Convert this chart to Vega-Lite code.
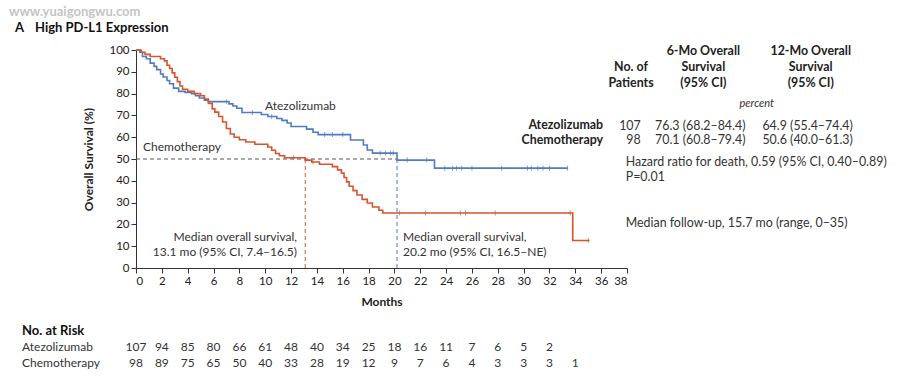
{
  "$schema": "https://vega.github.io/schema/vega-lite/v6.json",
  "width": 491,
  "height": 218,
  "autosize": {"type": "none"},
  "padding": {"left": 136, "top": 50, "right": 273, "bottom": 108},
  "background": "white",
  "config": {
    "view": {"stroke": null},
    "font": "Lato",
    "text": {"font": "Lato", "fontSize": 12, "color": "#2a2a2a", "baseline": "middle"}
  },
  "encoding": {
    "x": {
      "field": "month", "type": "quantitative",
      "scale": {"domain": [0, 38], "nice": false, "zero": false},
      "axis": {
        "title": "Months", "values": [0,2,4,6,8,10,12,14,16,18,20,22,24,26,28,30,32,34,36,38],
        "grid": false, "domainColor": "#333", "tickColor": "#333", "tickSize": 5,
        "labelFontSize": 11.5, "labelColor": "#222", "labelPadding": 2, "labelFont": "Lato",
        "titleFont": "Lato", "titleFontSize": 12, "titleFontWeight": "bold", "titleColor": "#222", "titlePadding": 10
      }
    },
    "y": {
      "field": "surv", "type": "quantitative",
      "scale": {"domain": [0, 100], "nice": false, "zero": false},
      "axis": {
        "title": "Overall Survival (%)", "values": [0,10,20,30,40,50,60,70,80,90,100],
        "grid": false, "domainColor": "#333", "tickColor": "#333", "tickSize": 5,
        "labelFontSize": 11.5, "labelColor": "#222", "labelPadding": 2, "labelFont": "Lato",
        "titleFont": "Lato", "titleFontSize": 12, "titleFontWeight": "bold", "titleColor": "#222", "titlePadding": 13
      }
    }
  },
  "layer": [
    {
      "data": {"values": [{"month": 0, "month2": 20.2, "surv": 50}]},
      "mark": {"type": "rule", "color": "#555", "strokeDash": [4, 3], "strokeWidth": 1},
      "encoding": {"x2": {"field": "month2"}}
    },
    {
      "data": {"values": [{"month": 13.1, "surv": 0, "surv2": 50}]},
      "mark": {"type": "rule", "color": "#d4552e", "strokeDash": [4, 3], "strokeWidth": 1},
      "encoding": {"y2": {"field": "surv2"}}
    },
    {
      "data": {"values": [{"month": 20.2, "surv": 0, "surv2": 50}]},
      "mark": {"type": "rule", "color": "#4f7cc0", "strokeDash": [4, 3], "strokeWidth": 1},
      "encoding": {"y2": {"field": "surv2"}}
    },
    {
      "data": {"values": [
        {"arm": "Atezolizumab", "month": 0, "surv": 100},
        {"arm": "Atezolizumab", "month": 0.3, "surv": 99},
        {"arm": "Atezolizumab", "month": 0.5, "surv": 97},
        {"arm": "Atezolizumab", "month": 0.8, "surv": 96},
        {"arm": "Atezolizumab", "month": 1.1, "surv": 94},
        {"arm": "Atezolizumab", "month": 1.4, "surv": 92.5},
        {"arm": "Atezolizumab", "month": 1.6, "surv": 91},
        {"arm": "Atezolizumab", "month": 1.9, "surv": 89},
        {"arm": "Atezolizumab", "month": 2.1, "surv": 87.6},
        {"arm": "Atezolizumab", "month": 2.4, "surv": 86},
        {"arm": "Atezolizumab", "month": 2.6, "surv": 84.5},
        {"arm": "Atezolizumab", "month": 2.9, "surv": 82.5},
        {"arm": "Atezolizumab", "month": 3.3, "surv": 81},
        {"arm": "Atezolizumab", "month": 3.8, "surv": 80.5},
        {"arm": "Atezolizumab", "month": 4.3, "surv": 80},
        {"arm": "Atezolizumab", "month": 4.6, "surv": 79},
        {"arm": "Atezolizumab", "month": 4.9, "surv": 78},
        {"arm": "Atezolizumab", "month": 5.3, "surv": 77},
        {"arm": "Atezolizumab", "month": 5.6, "surv": 76.3},
        {"arm": "Atezolizumab", "month": 7.2, "surv": 75.3},
        {"arm": "Atezolizumab", "month": 7.5, "surv": 74.3},
        {"arm": "Atezolizumab", "month": 7.8, "surv": 73.3},
        {"arm": "Atezolizumab", "month": 8.2, "surv": 71.3},
        {"arm": "Atezolizumab", "month": 9.7, "surv": 70.4},
        {"arm": "Atezolizumab", "month": 10.2, "surv": 69.5},
        {"arm": "Atezolizumab", "month": 10.9, "surv": 68.6},
        {"arm": "Atezolizumab", "month": 11.3, "surv": 67.7},
        {"arm": "Atezolizumab", "month": 11.7, "surv": 66.5},
        {"arm": "Atezolizumab", "month": 12.0, "surv": 64.9},
        {"arm": "Atezolizumab", "month": 13.2, "surv": 63.7},
        {"arm": "Atezolizumab", "month": 13.7, "surv": 62.3},
        {"arm": "Atezolizumab", "month": 14.1, "surv": 61.2},
        {"arm": "Atezolizumab", "month": 16.6, "surv": 58.7},
        {"arm": "Atezolizumab", "month": 17.6, "surv": 56.4},
        {"arm": "Atezolizumab", "month": 17.9, "surv": 54.1},
        {"arm": "Atezolizumab", "month": 18.3, "surv": 52.7},
        {"arm": "Atezolizumab", "month": 20.2, "surv": 49.5},
        {"arm": "Atezolizumab", "month": 23.1, "surv": 45.8},
        {"arm": "Atezolizumab", "month": 33.4, "surv": 45.8},
        {"arm": "Chemotherapy", "month": 0, "surv": 100},
        {"arm": "Chemotherapy", "month": 0.4, "surv": 99},
        {"arm": "Chemotherapy", "month": 0.7, "surv": 98},
        {"arm": "Chemotherapy", "month": 1.1, "surv": 97},
        {"arm": "Chemotherapy", "month": 1.9, "surv": 96},
        {"arm": "Chemotherapy", "month": 2.2, "surv": 95},
        {"arm": "Chemotherapy", "month": 2.4, "surv": 93},
        {"arm": "Chemotherapy", "month": 2.6, "surv": 91.5},
        {"arm": "Chemotherapy", "month": 2.8, "surv": 89.5},
        {"arm": "Chemotherapy", "month": 3.0, "surv": 87.5},
        {"arm": "Chemotherapy", "month": 3.2, "surv": 85.5},
        {"arm": "Chemotherapy", "month": 3.4, "surv": 83.5},
        {"arm": "Chemotherapy", "month": 3.6, "surv": 82},
        {"arm": "Chemotherapy", "month": 4.0, "surv": 81},
        {"arm": "Chemotherapy", "month": 4.5, "surv": 80},
        {"arm": "Chemotherapy", "month": 5.0, "surv": 79},
        {"arm": "Chemotherapy", "month": 5.3, "surv": 77.5},
        {"arm": "Chemotherapy", "month": 5.6, "surv": 75.5},
        {"arm": "Chemotherapy", "month": 5.9, "surv": 73},
        {"arm": "Chemotherapy", "month": 6.1, "surv": 71.5},
        {"arm": "Chemotherapy", "month": 6.4, "surv": 69.5},
        {"arm": "Chemotherapy", "month": 6.7, "surv": 67},
        {"arm": "Chemotherapy", "month": 7.0, "surv": 64},
        {"arm": "Chemotherapy", "month": 7.3, "surv": 61.5},
        {"arm": "Chemotherapy", "month": 7.6, "surv": 60},
        {"arm": "Chemotherapy", "month": 8.0, "surv": 58.8},
        {"arm": "Chemotherapy", "month": 8.5, "surv": 57.8},
        {"arm": "Chemotherapy", "month": 9.2, "surv": 56.8},
        {"arm": "Chemotherapy", "month": 10.2, "surv": 55.5},
        {"arm": "Chemotherapy", "month": 10.5, "surv": 54},
        {"arm": "Chemotherapy", "month": 10.8, "surv": 52.5},
        {"arm": "Chemotherapy", "month": 11.1, "surv": 51.5},
        {"arm": "Chemotherapy", "month": 11.5, "surv": 50.6},
        {"arm": "Chemotherapy", "month": 13.1, "surv": 49.5},
        {"arm": "Chemotherapy", "month": 13.6, "surv": 48.6},
        {"arm": "Chemotherapy", "month": 14.2, "surv": 47.6},
        {"arm": "Chemotherapy", "month": 15.2, "surv": 46.5},
        {"arm": "Chemotherapy", "month": 15.6, "surv": 45},
        {"arm": "Chemotherapy", "month": 15.9, "surv": 43.5},
        {"arm": "Chemotherapy", "month": 16.1, "surv": 41.5},
        {"arm": "Chemotherapy", "month": 16.3, "surv": 39.5},
        {"arm": "Chemotherapy", "month": 16.5, "surv": 37.5},
        {"arm": "Chemotherapy", "month": 16.8, "surv": 35.5},
        {"arm": "Chemotherapy", "month": 17.1, "surv": 33.5},
        {"arm": "Chemotherapy", "month": 17.5, "surv": 31.5},
        {"arm": "Chemotherapy", "month": 17.9, "surv": 29.8},
        {"arm": "Chemotherapy", "month": 18.3, "surv": 28},
        {"arm": "Chemotherapy", "month": 18.8, "surv": 26.5},
        {"arm": "Chemotherapy", "month": 19.1, "surv": 25.2},
        {"arm": "Chemotherapy", "month": 33.8, "surv": 12.6},
        {"arm": "Chemotherapy", "month": 35.1, "surv": 12.6}
      ]},
      "mark": {"type": "line", "interpolate": "step-after", "strokeWidth": 1.6},
      "encoding": {
        "color": {"field": "arm", "type": "nominal", "scale": {"domain": ["Atezolizumab", "Chemotherapy"], "range": ["#4f7cc0", "#d4552e"]}, "legend": null}
      }
    },
    {
      "data": {"values": [
        {"arm": "Atezolizumab", "month": 7.0, "surv": 76.3},
        {"arm": "Atezolizumab", "month": 9.0, "surv": 71.3},
        {"arm": "Atezolizumab", "month": 10.5, "surv": 69.5},
        {"arm": "Atezolizumab", "month": 14.6, "surv": 61.2},
        {"arm": "Atezolizumab", "month": 15.2, "surv": 61.2},
        {"arm": "Atezolizumab", "month": 16.0, "surv": 61.2},
        {"arm": "Atezolizumab", "month": 18.9, "surv": 52.7},
        {"arm": "Atezolizumab", "month": 19.3, "surv": 52.7},
        {"arm": "Atezolizumab", "month": 19.7, "surv": 52.7},
        {"arm": "Atezolizumab", "month": 19.9, "surv": 52.7},
        {"arm": "Atezolizumab", "month": 21.0, "surv": 49.5},
        {"arm": "Atezolizumab", "month": 22.5, "surv": 49.5},
        {"arm": "Atezolizumab", "month": 23.9, "surv": 45.8},
        {"arm": "Atezolizumab", "month": 24.5, "surv": 45.8},
        {"arm": "Atezolizumab", "month": 24.8, "surv": 45.8},
        {"arm": "Atezolizumab", "month": 25.2, "surv": 45.8},
        {"arm": "Atezolizumab", "month": 26.0, "surv": 45.8},
        {"arm": "Atezolizumab", "month": 28.3, "surv": 45.8},
        {"arm": "Atezolizumab", "month": 30.3, "surv": 45.8},
        {"arm": "Atezolizumab", "month": 30.6, "surv": 45.8},
        {"arm": "Atezolizumab", "month": 31.1, "surv": 45.8},
        {"arm": "Atezolizumab", "month": 31.5, "surv": 45.8},
        {"arm": "Atezolizumab", "month": 32.0, "surv": 45.8},
        {"arm": "Atezolizumab", "month": 33.4, "surv": 45.8},
        {"arm": "Chemotherapy", "month": 12.2, "surv": 50.6},
        {"arm": "Chemotherapy", "month": 13.7, "surv": 48.6},
        {"arm": "Chemotherapy", "month": 20.4, "surv": 25.2},
        {"arm": "Chemotherapy", "month": 22.4, "surv": 25.2},
        {"arm": "Chemotherapy", "month": 25.1, "surv": 25.2},
        {"arm": "Chemotherapy", "month": 25.5, "surv": 25.2},
        {"arm": "Chemotherapy", "month": 27.8, "surv": 25.2},
        {"arm": "Chemotherapy", "month": 33.6, "surv": 25.2},
        {"arm": "Chemotherapy", "month": 35.0, "surv": 12.6}
      ]},
      "mark": {"type": "tick", "orient": "vertical", "size": 5, "thickness": 1},
      "encoding": {
        "color": {"field": "arm", "type": "nominal", "scale": {"domain": ["Atezolizumab", "Chemotherapy"], "range": ["#4f7cc0", "#d4552e"]}, "legend": null}
      }
    },
    {
      "data": {"values": [
        {"label": "www.yuaigongwu.com", "month": -9.83, "surv": 117.4}
      ]},
      "mark": {"type": "text", "align": "left", "fontWeight": "bold", "fontSize": 13, "color": "#c4c4c4", "clip": false},
      "encoding": {"text": {"field": "label"}}
    },
    {
      "data": {"values": [
        {"label": "A", "month": -9.37, "surv": 110.1},
        {"label": "High PD-L1 Expression", "month": -7.82, "surv": 110.1},
        {"label": "No. at Risk", "month": -8.82, "surv": -28.9}
      ]},
      "mark": {"type": "text", "align": "left", "fontWeight": "bold", "fontSize": 13, "color": "#111", "clip": false},
      "encoding": {"text": {"field": "label"}}
    },
    {
      "data": {"values": [
        {"label": "Atezolizumab", "month": 9.98, "surv": 74.3},
        {"label": "Chemotherapy", "month": 0.54, "surv": 55.5},
        {"label": "Atezolizumab", "month": -8.82, "surv": -36.2},
        {"label": "Chemotherapy", "month": -8.82, "surv": -43.6}
      ]},
      "mark": {"type": "text", "align": "left", "fontSize": 12, "color": "#333", "clip": false},
      "encoding": {"text": {"field": "label"}}
    },
    {
      "data": {"values": [
        {"label": "Median overall survival,", "month": 20.67, "surv": 14.4},
        {"label": "20.2 mo (95% CI, 16.5–NE)", "month": 20.67, "surv": 7.2}
      ]},
      "mark": {"type": "text", "align": "left", "fontSize": 12, "color": "#333", "clip": false},
      "encoding": {"text": {"field": "label"}}
    },
    {
      "data": {"values": [
        {"label": "76.3 (68.2–84.4)", "month": 40.17, "surv": 65.14},
        {"label": "64.9 (55.4–74.4)", "month": 48.48, "surv": 65.14},
        {"label": "70.1 (60.8–79.4)", "month": 40.17, "surv": 58.72},
        {"label": "50.6 (40.0–61.3)", "month": 48.48, "surv": 58.72},
        {"label": "Hazard ratio for death, 0.59 (95% CI, 0.40–0.89)", "month": 37.9, "surv": 48.76},
        {"label": "P=0.01", "month": 37.9, "surv": 41.88},
        {"label": "Median follow-up, 15.7 mo (range, 0–35)", "month": 37.9, "surv": 20.5}
      ]},
      "mark": {"type": "text", "align": "left", "fontSize": 12.4, "color": "#333", "clip": false},
      "encoding": {"text": {"field": "label"}}
    },
    {
      "data": {"values": [
        {"label": "Median overall survival,", "month": 12.46, "surv": 14.4},
        {"label": "13.1 mo (95% CI, 7.4–16.5)", "month": 12.46, "surv": 7.2}
      ]},
      "mark": {"type": "text", "align": "right", "fontSize": 12, "color": "#333", "clip": false},
      "encoding": {"text": {"field": "label"}}
    },
    {
      "data": {"values": [
        {"label": "107", "month": 39.06, "surv": 65.14},
        {"label": "98", "month": 39.06, "surv": 58.72}
      ]},
      "mark": {"type": "text", "align": "right", "fontSize": 12.4, "color": "#333", "clip": false},
      "encoding": {"text": {"field": "label"}}
    },
    {
      "data": {"values": [
        {"label": "Atezolizumab", "month": 36.15, "surv": 65.6},
        {"label": "Chemotherapy", "month": 36.15, "surv": 58.7}
      ]},
      "mark": {"type": "text", "align": "right", "fontWeight": "bold", "fontSize": 12.4, "color": "#222", "clip": false},
      "encoding": {"text": {"field": "label"}}
    },
    {
      "data": {"values": [
        {"label": "No. of", "month": 38.31, "surv": 92.34},
        {"label": "Patients", "month": 38.31, "surv": 85.0},
        {"label": "6-Mo Overall", "month": 43.91, "surv": 99.54},
        {"label": "Survival", "month": 43.91, "surv": 92.34},
        {"label": "(95% CI)", "month": 43.91, "surv": 85.0},
        {"label": "12-Mo Overall", "month": 52.22, "surv": 99.54},
        {"label": "Survival", "month": 52.22, "surv": 92.34},
        {"label": "(95% CI)", "month": 52.22, "surv": 85.0}
      ]},
      "mark": {"type": "text", "align": "center", "fontWeight": "bold", "fontSize": 12.4, "color": "#222", "clip": false},
      "encoding": {"text": {"field": "label"}}
    },
    {
      "data": {"values": [
        {"label": "percent", "month": 48.04, "surv": 75.09}
      ]},
      "mark": {"type": "text", "align": "center", "fontStyle": "italic", "fontSize": 11, "color": "#333", "clip": false},
      "encoding": {"text": {"field": "label"}}
    },
    {
      "data": {"values": [
        {"n": "107", "month": 0, "surv": -36.2}, {"n": "94", "month": 2, "surv": -36.2},
        {"n": "85", "month": 4, "surv": -36.2}, {"n": "80", "month": 6, "surv": -36.2},
        {"n": "66", "month": 8, "surv": -36.2}, {"n": "61", "month": 10, "surv": -36.2},
        {"n": "48", "month": 12, "surv": -36.2}, {"n": "40", "month": 14, "surv": -36.2},
        {"n": "34", "month": 16, "surv": -36.2}, {"n": "25", "month": 18, "surv": -36.2},
        {"n": "18", "month": 20, "surv": -36.2}, {"n": "16", "month": 22, "surv": -36.2},
        {"n": "11", "month": 24, "surv": -36.2}, {"n": "7", "month": 26, "surv": -36.2},
        {"n": "6", "month": 28, "surv": -36.2}, {"n": "5", "month": 30, "surv": -36.2},
        {"n": "2", "month": 32, "surv": -36.2},
        {"n": "98", "month": 0, "surv": -43.6}, {"n": "89", "month": 2, "surv": -43.6},
        {"n": "75", "month": 4, "surv": -43.6}, {"n": "65", "month": 6, "surv": -43.6},
        {"n": "50", "month": 8, "surv": -43.6}, {"n": "40", "month": 10, "surv": -43.6},
        {"n": "33", "month": 12, "surv": -43.6}, {"n": "28", "month": 14, "surv": -43.6},
        {"n": "19", "month": 16, "surv": -43.6}, {"n": "12", "month": 18, "surv": -43.6},
        {"n": "9", "month": 20, "surv": -43.6}, {"n": "7", "month": 22, "surv": -43.6},
        {"n": "6", "month": 24, "surv": -43.6}, {"n": "4", "month": 26, "surv": -43.6},
        {"n": "3", "month": 28, "surv": -43.6}, {"n": "3", "month": 30, "surv": -43.6},
        {"n": "3", "month": 32, "surv": -43.6}, {"n": "1", "month": 34, "surv": -43.6}
      ]},
      "mark": {"type": "text", "align": "center", "fontSize": 12, "color": "#333", "clip": false},
      "encoding": {"text": {"field": "n"}}
    }
  ]
}
